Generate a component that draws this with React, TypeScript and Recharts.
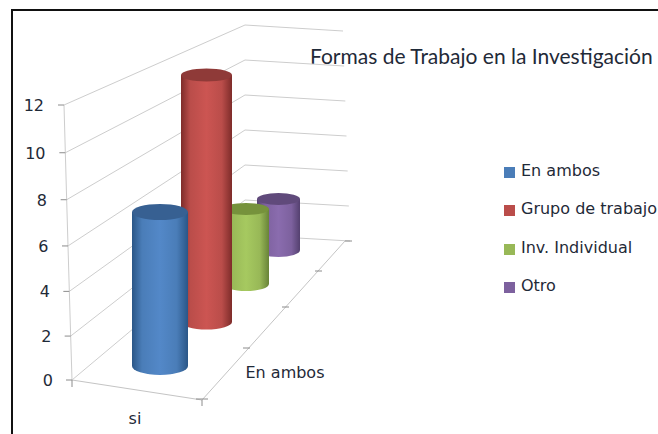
import React from "react";
import { BarChart, Bar, XAxis, YAxis, CartesianGrid, Legend } from "recharts";

const categories = ["si"];
const depthLabels = ["En ambos"];
const enAmbos = [7];
const grupoDeTrabajo = [12];
const invIndividual = [4];
const otro = [3];
const yTicks = [0, 2, 4, 6, 8, 10, 12];

const rows = categories.map((c, i) => ({
  category: c,
  "En ambos": enAmbos[i],
  "Grupo de trabajo": grupoDeTrabajo[i],
  "Inv. Individual": invIndividual[i],
  Otro: otro[i],
}));

const W = 658;
const H = 434;
const PLOT_TOP = 105;
const PLOT_BOTTOM = 380;
const BAR = 50;

const looks: Record<string, any> = {
  "En ambos": { dx: -51, w: 1.12, k: 0.96, lift: 14, ry: 8, color: "#4A7DB8", edge: "#2A5687", mid: "#5388C8", cap: "#376092" },
  "Grupo de trabajo": { dx: -4.5, w: 1.02, k: 0.898, lift: 58, ry: 6.5, color: "#BA4D4A", edge: "#7E2C2A", mid: "#CC5552", cap: "#8F3A38" },
  "Inv. Individual": { dx: 35, w: 0.92, k: 0.818, lift: 96, ry: 6, color: "#98B857", edge: "#688338", mid: "#A6C960", cap: "#76923C" },
  Otro: { dx: 67.5, w: 0.86, k: 0.742, lift: 130, ry: 6, color: "#7D619E", edge: "#54406F", mid: "#8A6CAE", cap: "#604A7B" },
};

const cylinder = (name: string) => (props: any) => {
  const { x, y, width, height } = props;
  const s = looks[name];
  const cx = x + width / 2 + s.dx;
  const rx = (width / 2) * s.w;
  const base = y + height - s.lift;
  const top = base - height * s.k;
  const id = "g" + name.replace(/[^a-z]/gi, "");
  return (
    <g>
      <defs>
        <linearGradient id={id} x1="0" x2="1" y1="0" y2="0">
          <stop offset="0" stopColor={s.edge} />
          <stop offset="0.18" stopColor={s.color} />
          <stop offset="0.5" stopColor={s.mid} />
          <stop offset="0.8" stopColor={s.color} />
          <stop offset="1" stopColor={s.edge} />
        </linearGradient>
      </defs>
      <path
        d={`M${cx - rx},${top} L${cx - rx},${base} A${rx},${s.ry + 1} 0 0 0 ${cx + rx},${base} L${cx + rx},${top} Z`}
        fill={`url(#${id})`}
      />
      <ellipse cx={cx} cy={top} rx={rx} ry={s.ry} fill={s.cap} />
    </g>
  );
};

const fraction = (y: number) => (PLOT_BOTTOM - y) / (PLOT_BOTTOM - PLOT_TOP);
const bowed = (t: number) => t - 0.05 * t * (1 - t);
const wallY = (t: number) => PLOT_BOTTOM - (PLOT_BOTTOM - PLOT_TOP) * bowed(t);
const wallX = (t: number) => 72 - 8 * t;

const WallLine = (props: any) => {
  const t = fraction(props.y1);
  const yL = wallY(t);
  const xL = wallX(t);
  const next = t - 1 / 6;
  return (
    <g fill="none" stroke="#CDCDCD" strokeWidth={1}>
      <polyline points={`${xL},${yL} 245,${235 - 210 * t} ${350 - 7 * t},${241 - 210 * t}`} />
      {next > -0.01 && <line x1={xL} y1={yL} x2={wallX(next)} y2={wallY(next)} />}
    </g>
  );
};

const YTick = (props: any) => {
  const t = fraction(props.y);
  const y = wallY(t);
  const xL = wallX(t);
  return (
    <g>
      <line x1={xL - 6} y1={y} x2={xL} y2={y} stroke="#8C8C8C" />
      <text x={53 - 9 * t} y={y + 6} textAnchor="end" fontFamily="DejaVu Sans" fontSize={16} fill="#1F2A38">
        {props.payload.value}
      </text>
    </g>
  );
};

const floorTicks = [
  [246, 348],
  [285, 307],
  [318, 271],
  [348, 241],
];

const XTick = (props: any) => (
  <g>
    <polyline points="72,380 202,400 345,241" fill="none" stroke="#C4C4C4" />
    <line x1={72} y1={380} x2={72} y2={387} stroke="#8C8C8C" />
    <line x1={202} y1={400} x2={202} y2={406} stroke="#8C8C8C" />
    <line x1={196} y1={399} x2={208} y2={399} stroke="#8C8C8C" />
    {floorTicks.map(([a, b]) => (
      <line key={a} x1={a - 3} y1={b} x2={a + 4} y2={b} stroke="#8C8C8C" />
    ))}
    <text x={props.x - 76} y={424} textAnchor="middle" fontFamily="DejaVu Sans" fontSize={16} fill="#1F2A38">
      {props.payload.value}
    </text>
    <text x={285} y={378} textAnchor="middle" fontFamily="DejaVu Sans" fontSize={16} fill="#1F2A38">
      {depthLabels[0]}
    </text>
  </g>
);

const seriesBackToFront = ["Otro", "Inv. Individual", "Grupo de trabajo", "En ambos"];

export default function App() {
  return (
    <div style={{ position: "absolute", left: 0, top: 0, width: W, height: H, overflow: "hidden", background: "#fff" }}>
      <div style={{ position: "absolute", left: 11, top: 9, right: 0, bottom: 0, borderTop: "2px solid #111", borderLeft: "2px solid #111" }} />
      <div style={{ position: "absolute", left: 310, top: 43, fontFamily: "Lato", fontSize: 21, color: "#1F2A38", whiteSpace: "nowrap" }}>
        Formas de Trabajo en la Investigación
      </div>
      <BarChart
        width={W}
        height={H}
        data={rows}
        barSize={BAR}
        barGap={-BAR}
        margin={{ top: PLOT_TOP, left: 12, right: 308, bottom: 24 }}
        style={{ position: "absolute", left: 0, top: 0 }}
      >
        <CartesianGrid horizontal={WallLine as any} vertical={false} />
        <XAxis dataKey="category" height={30} axisLine={false} tickLine={false} tick={XTick as any} interval={0} />
        <YAxis width={60} domain={[0, 12]} ticks={yTicks} axisLine={false} tickLine={false} tick={YTick as any} />
        {seriesBackToFront.map((name) => (
          <Bar key={name} dataKey={name} fill={looks[name].color} shape={cylinder(name) as any} isAnimationActive={false} />
        ))}
        <Legend
          layout="vertical"
          align="center"
          verticalAlign="middle"
          iconType="square"
          iconSize={11}
          itemSorter="value"
          wrapperStyle={{ position: "absolute", left: 504, top: 152, width: 170, lineHeight: "38.4px", whiteSpace: "nowrap", textAlign: "left" }}
          formatter={(v: any) => (
            <span style={{ color: "#1F2A38", fontFamily: "DejaVu Sans", fontSize: 16, marginLeft: 2 }}>{v}</span>
          )}
        />
      </BarChart>
    </div>
  );
}
